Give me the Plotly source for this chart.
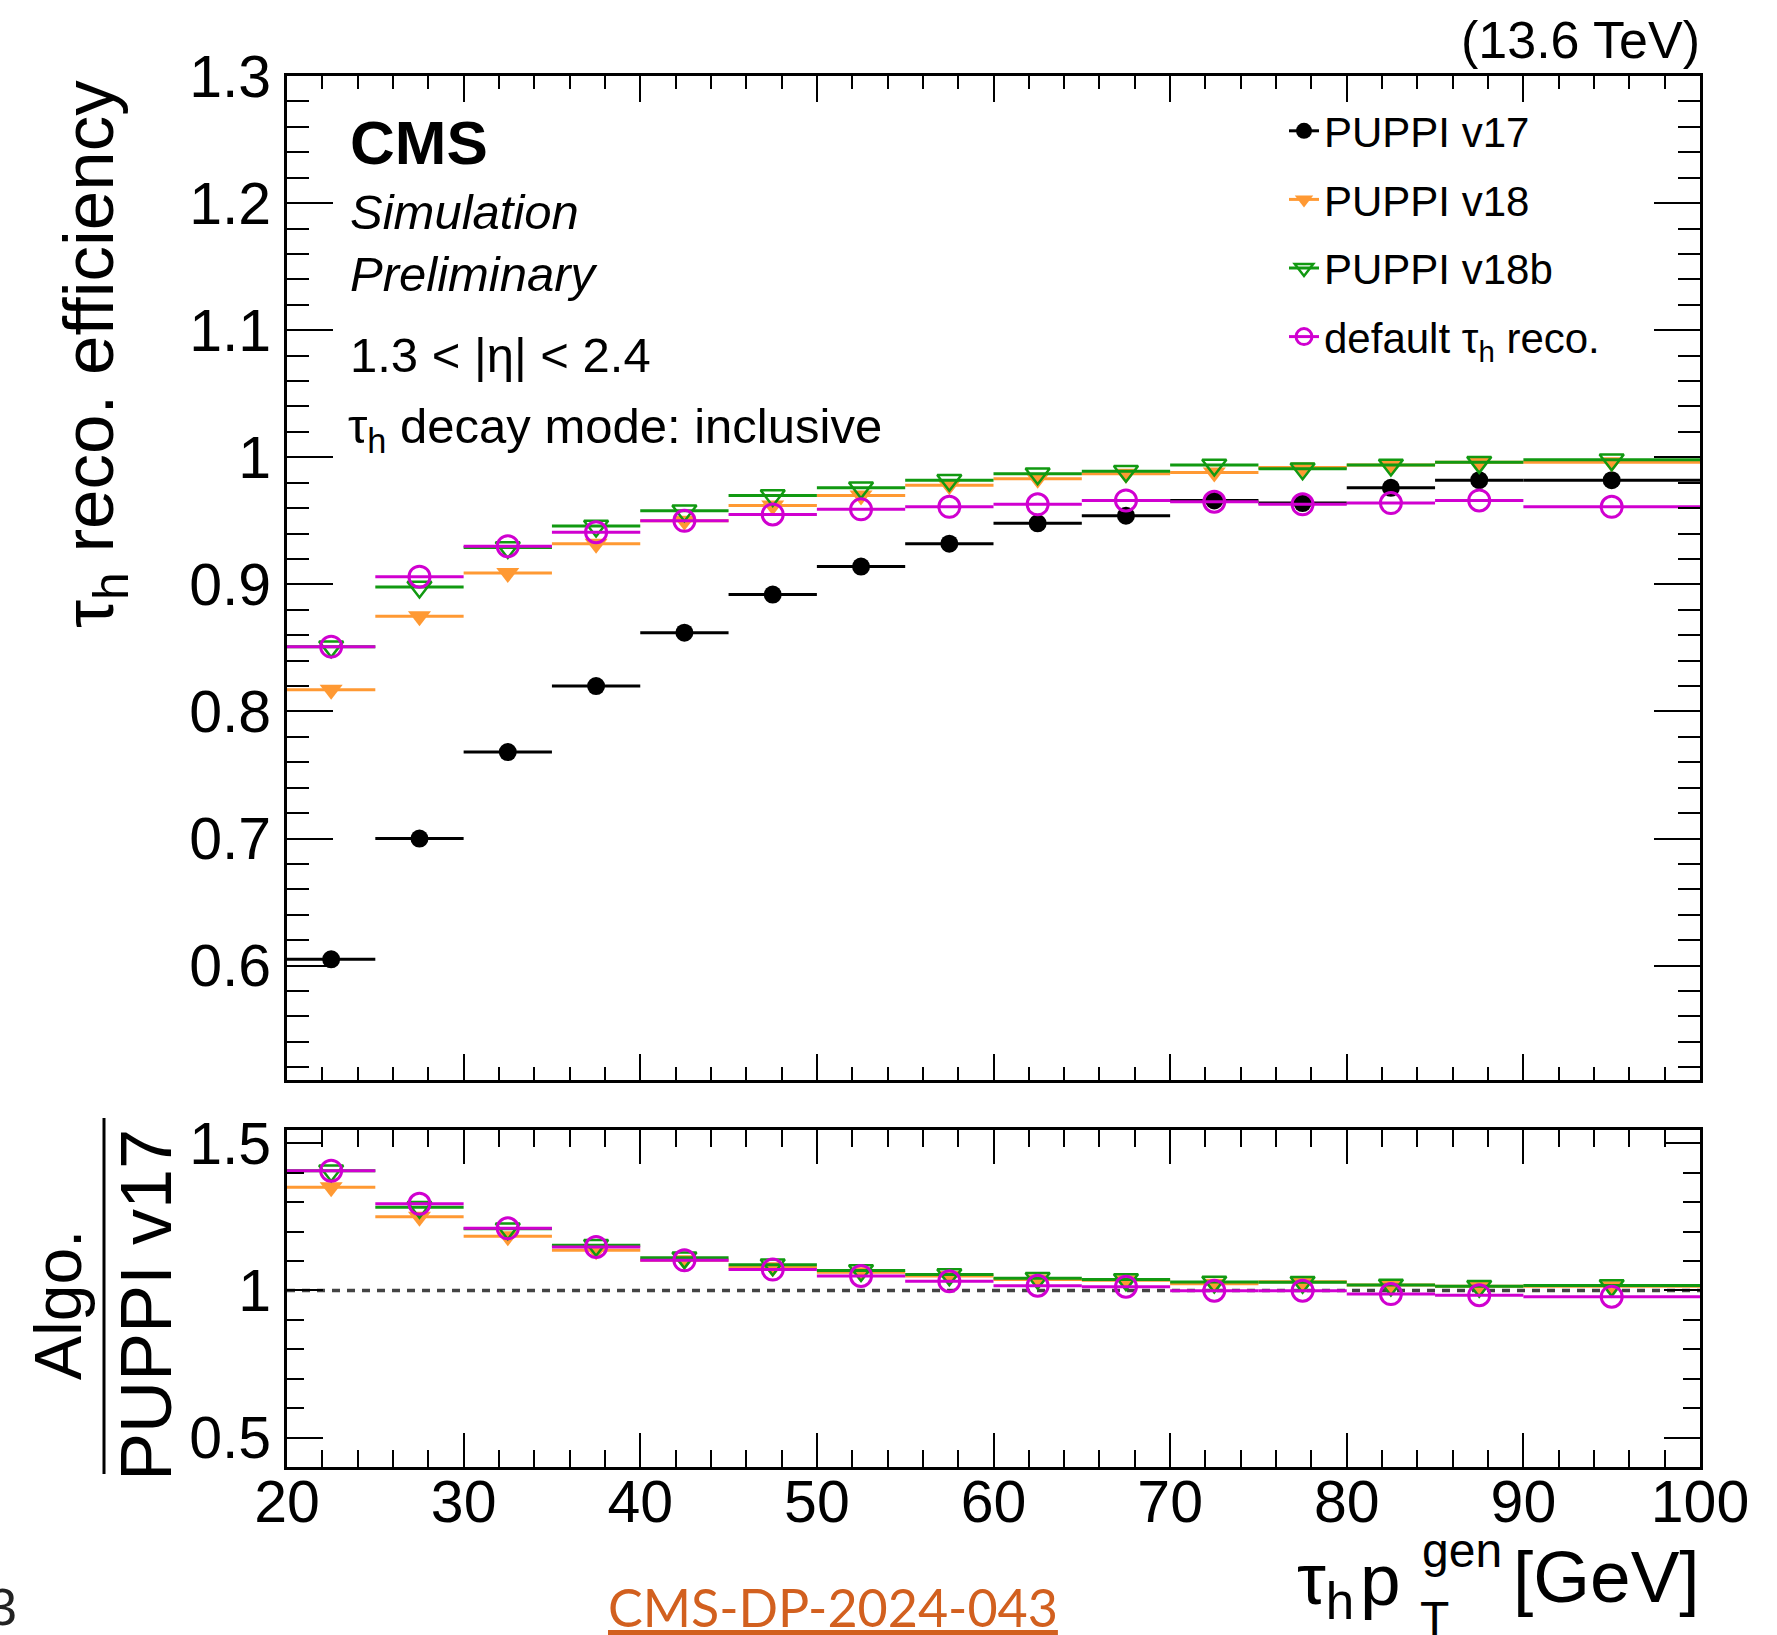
import plotly.graph_objects as go
from plotly.subplots import make_subplots

# ---------------- data ----------------
bin_lo = [20, 25, 30, 35, 40, 45, 50, 55, 60, 65, 70, 75, 80, 85, 90]
bin_hi = [25, 30, 35, 40, 45, 50, 55, 60, 65, 70, 75, 80, 85, 90, 100]

eff_v17 = [0.605, 0.700, 0.768, 0.820, 0.862, 0.892, 0.914, 0.932, 0.948,
           0.954, 0.966, 0.964, 0.976, 0.982, 0.982]
eff_v18 = [0.817, 0.875, 0.909, 0.932, 0.950, 0.962, 0.970, 0.978, 0.983,
           0.987, 0.988, 0.992, 0.994, 0.996, 0.996]
eff_v18b = [0.851, 0.898, 0.929, 0.946, 0.958, 0.970, 0.976, 0.982, 0.987,
            0.989, 0.994, 0.991, 0.994, 0.996, 0.998]
eff_default = [0.851, 0.906, 0.930, 0.941, 0.950, 0.955, 0.959, 0.961, 0.963,
               0.966, 0.965, 0.963, 0.964, 0.966, 0.961]

series_names = ["PUPPI v17", "PUPPI v18", "PUPPI v18b", "default τ<sub>h</sub> reco."]

x_tickvals = [20, 30, 40, 50, 60, 70, 80, 90, 100]
x_ticktext = ["20", "30", "40", "50", "60", "70", "80", "90", "100"]
y_tickvals = [0.6, 0.7, 0.8, 0.9, 1.0, 1.1, 1.2, 1.3]
y_ticktext = ["0.6", "0.7", "0.8", "0.9", "1", "1.1", "1.2", "1.3"]
r_tickvals = [0.5, 1.0, 1.5]
r_ticktext = ["0.5", "1", "1.5"]

# ---------------- derived ----------------
centers = [(a + b) / 2 for a, b in zip(bin_lo, bin_hi)]
halfw = [(b - a) / 2 for a, b in zip(bin_lo, bin_hi)]
all_eff = [eff_v17, eff_v18, eff_v18b, eff_default]
ratios = [[v / r for v, r in zip(s, eff_v17)] for s in all_eff]

# ---------------- style ----------------
W, H = 1777, 1635
L, R, T, B = 287, 77, 76, 168
PW, PH = W - L - R, H - T - B
FONT = "Liberation Sans"


def px2x(px):
    return (px - L) / PW


def py2y(py):
    return (H - B - py) / PH


colors = ["#000000", "#ff9933", "#119911", "#d000d0"]
symbols = ["circle", "triangle-down", "triangle-down-open", "circle-open"]
msizes = [18, 20, 21, 21]
mlw = [0, 0, 2.5, 3]

fig = make_subplots(rows=2, cols=1, shared_xaxes=False)

for i in range(4):
    for row, ys in ((1, all_eff[i]), (2, ratios[i])):
        if row == 2 and i == 0:
            continue
        fig.add_trace(go.Scatter(
            x=centers, y=ys, mode="markers",
            marker=dict(symbol=symbols[i], size=msizes[i], color=colors[i],
                        line=dict(width=mlw[i], color=colors[i])),
            error_x=dict(type="data", array=halfw, symmetric=True,
                         color=colors[i], thickness=3, width=0),
            showlegend=False, hoverinfo="x+y",
        ), row=row, col=1)

# legend entries
for i in range(4):
    fig.add_trace(go.Scatter(
        x=[None], y=[None], mode="lines+markers", name=series_names[i],
        line=dict(color=colors[i], width=3),
        marker=dict(symbol=symbols[i], size=msizes[i] - 2, color=colors[i],
                    line=dict(width=mlw[i], color=colors[i])),
        legendgroup=f"g{i}", showlegend=True,
    ), row=1, col=1)

# dashed line at 1 in ratio panel
fig.add_shape(type="line", xref="x2", yref="y2", x0=bin_lo[0], x1=bin_hi[-1],
              y0=1, y1=1, line=dict(color="#444444", width=3.5, dash="8px,7px"),
              layer="below")

axis_common = dict(showline=True, linecolor="black", linewidth=3, mirror="allticks",
                   ticks="inside", tickcolor="black", automargin=False,
                   showgrid=False, zeroline=False,
                   tickfont=dict(family=FONT, size=59, color="black"))

fig.update_xaxes(range=[20, 100], tickvals=x_tickvals, ticktext=x_ticktext, **axis_common)
fig.update_yaxes(**axis_common)

fig.update_layout(
    xaxis=dict(domain=[0, 1], showticklabels=False, ticklen=26, tickwidth=2,
               minor=dict(ticks="inside", dtick=2, ticklen=13, tickwidth=2, tickcolor="black")),
    yaxis=dict(domain=[py2y(1080), 1], range=[0.51, 1.3], tickvals=y_tickvals,
               ticktext=y_ticktext, ticklen=46, tickwidth=2, ticklabelstandoff=1,
               minor=dict(ticks="inside", dtick=0.02, tick0=0, ticklen=22, tickwidth=2,
                          tickcolor="black")),
    xaxis2=dict(domain=[0, 1], showticklabels=True, ticklen=34, tickwidth=2,
                ticklabelstandoff=-19,
                minor=dict(ticks="inside", dtick=2, ticklen=17, tickwidth=2, tickcolor="black")),
    yaxis2=dict(domain=[0, py2y(1130)], range=[0.4, 1.545], tickvals=r_tickvals,
                ticktext=r_ticktext, ticklen=36, tickwidth=2, ticklabelstandoff=1,
                minor=dict(ticks="inside", dtick=0.1, tick0=0, ticklen=17, tickwidth=2,
                           tickcolor="black")),
)

ann = []


def add_text(text, px, py, size, xanchor="left", yanchor="middle", angle=0,
             color="black", family=FONT):
    ann.append(dict(text=text, x=px2x(px), y=py2y(py), xref="paper", yref="paper",
                    xanchor=xanchor, yanchor=yanchor, showarrow=False, textangle=angle,
                    font=dict(family=family, size=size, color=color)))


add_text("(13.6 TeV)", 1702, 40, 52, xanchor="right")
add_text("<b>CMS</b>", 348, 142, 62)
add_text("<i>Simulation</i>", 348, 212, 49)
add_text("<i>Preliminary</i>", 348, 274, 49)
add_text("1.3 < |η| < 2.4", 348, 355, 49)
add_text("τ<sub>h</sub> decay mode: inclusive", 346, 430, 49)

# y titles
add_text("τ<sub>h</sub> reco. efficiency", 94, 78, 71, xanchor="center", yanchor="top", angle=-90)
add_text("Algo.", 58, 1305, 66, xanchor="center", yanchor="middle", angle=-90)
add_text("PUPPI v17", 146, 1305, 72, xanchor="center", yanchor="middle", angle=-90)
fig.add_shape(type="line", xref="paper", yref="paper", x0=px2x(104), x1=px2x(104),
              y0=py2y(1118), y1=py2y(1474), line=dict(color="black", width=3))

# x title
add_text("τ<sub>h</sub>", 1356, 1584, 73, xanchor="right")
add_text("p", 1358, 1579, 73)
add_text("gen", 1420, 1550, 48)
add_text("T", 1418, 1618, 48)
add_text("[GeV]", 1702, 1577, 73, xanchor="right")

# footer
add_text("<u>CMS-DP-2024-043</u>", 833, 1607, 52, xanchor="center", color="#d2601f",
         family="Lato")
add_text("3", 2, 1607, 52, xanchor="center", color="#222222")

fig.update_layout(
    annotations=ann,
    width=W, height=H,
    margin=dict(l=L, r=R, t=T, b=B, pad=0),
    paper_bgcolor="white", plot_bgcolor="white",
    font=dict(family=FONT, color="black"),
    legend=dict(x=px2x(1284), y=py2y(97), xanchor="left", yanchor="top",
                font=dict(family=FONT, size=42, color="black"),
                bgcolor="rgba(0,0,0,0)", tracegroupgap=11, itemwidth=30,
                itemsizing="trace"),
)

fig.write_html("out.html")
